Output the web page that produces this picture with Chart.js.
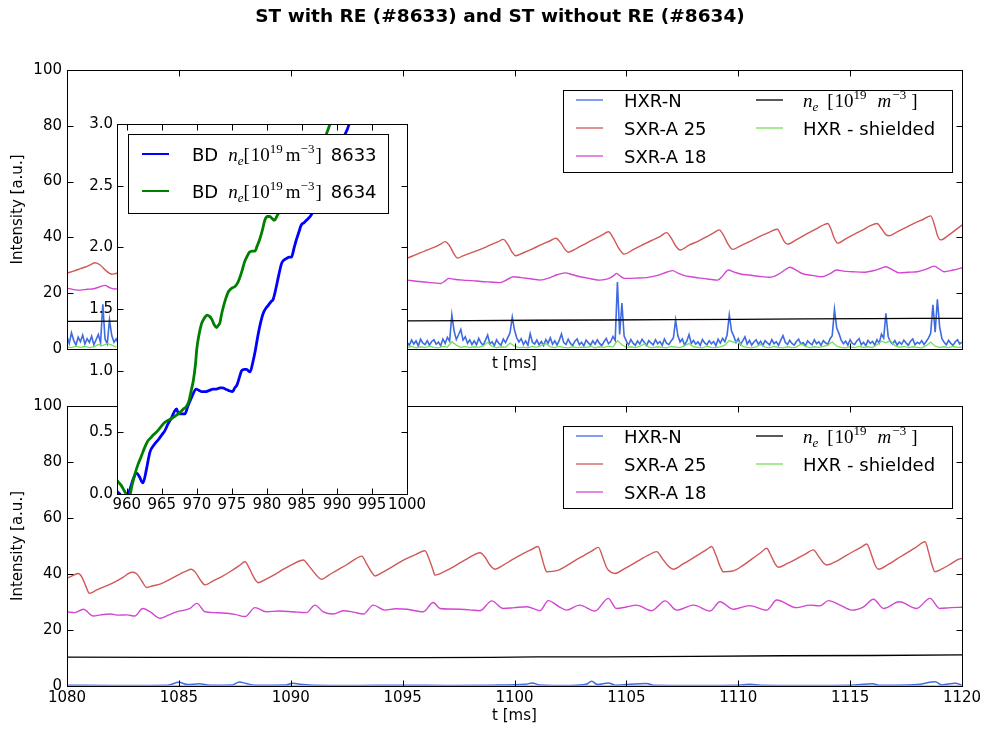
<!DOCTYPE html>
<html>
<head>
<meta charset="utf-8">
<script src="https://cdn.jsdelivr.net/npm/chart.js@4.4.1/dist/chart.umd.min.js"></script>
<style>
  html, body { margin: 0; padding: 0; background: #fff; }
  #wrap { position: relative; width: 985px; height: 729px; overflow: hidden; background: #fff; }
  #wrap canvas { position: absolute; left: 0; top: 0; width: 985px; height: 729px; }
</style>
</head>
<body>
<div id="wrap">
  <canvas id="cBottom" width="985" height="729"></canvas>
  <canvas id="cTop" width="985" height="729"></canvas>
  <canvas id="cInset" width="985" height="729"></canvas>
</div>
<script>
// ---------------------------------------------------------------------------
// Texts and tick labels
// ---------------------------------------------------------------------------
const FIG_TITLE = 'ST with RE (#8633) and ST without RE (#8634)';
const Y_TITLE = 'Intensity [a.u.]';
const X_TITLE = 't [ms]';
const timeTicks = [1080, 1085, 1090, 1095, 1100, 1105, 1110, 1115, 1120];
const intensityTicks = [0, 20, 40, 60, 80, 100];
const bdTimeTicks = [960, 965, 970, 975, 980, 985, 990, 995, 1000];
const bdDensityTicks = [0, 0.5, 1.0, 1.5, 2.0, 2.5, 3.0];

// ---------------------------------------------------------------------------
// Shot #8633 (with runaway electrons) -- upper panel
// ---------------------------------------------------------------------------
// HXR-N, sampled every 0.1 ms, two stretches
const hxrN8633StartA = 1080.0;
const hxrN8633A = [4.5,2.0,5.8,3.1,1.4,4.2,2.6,5.0,1.8,3.7,
                   2.4,4.6,1.5,3.3,5.2,2.2,16.0,3.6,1.9,10.4,
                   4.8,2.4,3.6,1.8];
const hxrN8633StartB = 1095.2;
const hxrN8633B = [2.4,1.3,3.2,1.8,2.9,1.1,3.5,2.2,1.6,3.0,
                   1.4,2.7,3.3,1.7,2.5,1.2,3.6,2.0,4.2,2.8,
                   12.2,6.5,3.4,5.1,7.0,3.2,4.4,2.1,3.3,1.6,
                   2.9,1.5,3.8,2.2,1.3,3.1,5.0,1.8,2.6,1.2,
                   3.3,2.0,1.4,3.6,2.3,4.1,5.8,11.4,6.8,4.0,
                   2.5,3.7,1.6,2.9,1.3,5.5,2.4,1.8,3.2,1.5,
                   2.7,1.2,3.4,2.1,4.0,1.7,2.9,1.4,3.1,5.4,
                   2.3,1.6,3.5,2.0,1.3,2.8,3.6,1.5,2.4,1.1,
                   3.2,2.2,1.4,2.9,1.7,3.3,2.0,1.2,2.6,3.8,
                   1.9,2.7,4.5,3.1,24.0,5.2,16.5,4.6,2.8,1.5,
                   3.4,2.1,1.3,2.9,1.8,3.5,2.4,1.2,3.0,2.2,
                   1.5,3.3,1.9,2.7,1.3,3.6,2.0,1.6,2.9,3.9,
                   10.4,4.8,2.5,3.6,1.4,2.8,5.2,2.0,3.1,1.7,
                   2.6,1.3,3.4,2.2,1.5,3.0,1.9,2.7,1.2,3.5,
                   2.1,3.8,2.6,5.0,12.2,6.4,4.6,2.3,3.7,1.6,
                   2.9,4.4,1.8,3.1,1.4,2.5,3.3,1.7,2.8,1.2,
                   3.0,2.2,1.5,3.4,1.9,2.6,1.3,3.2,4.8,2.4,
                   1.6,3.1,2.0,1.4,2.7,3.5,1.8,2.3,1.1,2.9,
                   2.1,1.5,3.3,1.9,2.6,1.3,3.0,2.2,1.7,3.6,
                   4.8,14.2,7.5,5.6,3.2,1.9,2.8,1.4,3.3,2.0,
                   1.6,2.9,3.7,1.5,2.4,1.2,3.1,2.0,2.7,1.4,
                   3.3,2.1,5.3,3.9,12.8,4.5,2.6,1.8,3.0,1.4,
                   2.5,1.7,3.2,2.2,1.3,2.8,3.6,1.5,2.4,1.9,
                   3.0,1.6,2.7,3.9,5.6,15.8,6.0,17.8,8.0,3.8,
                   2.4,1.5,3.1,2.0,1.3,2.6,3.3,1.8,2.5];
const hxrN8633Step = 0.1;

// HXR - shielded, sampled every 0.2 ms, same two stretches
const shield8633StartA = 1080.0;
const shield8633A = [0.8,0.5,1.0,0.6,0.9,0.5,0.8,1.6,1.2,2.0,1.4,0.7];
const shield8633StartB = 1095.2;
const shield8633B = [0.6,0.9,0.4,0.8,0.5,1.0,0.6,0.4,0.9,0.7,
                     2.6,1.4,0.6,0.9,0.5,0.8,0.6,1.1,2.4,0.9,
                     0.5,0.8,0.6,2.1,1.0,0.5,0.7,0.4,0.9,0.6,
                     1.2,2.0,0.8,0.5,0.9,0.6,0.4,0.8,0.5,0.7,
                     0.6,0.9,0.4,0.8,0.6,1.0,0.7,3.0,1.5,0.6,
                     0.8,0.5,0.9,1.9,0.7,0.5,0.8,0.6,0.4,0.9,
                     0.7,0.5,1.2,2.0,0.8,0.6,0.4,0.9,0.6,0.5,
                     0.8,1.4,3.0,2.4,2.8,0.9,0.6,0.4,0.8,1.6,
                     0.7,0.5,0.9,0.6,0.4,0.8,0.5,0.7,1.8,0.9,
                     0.5,0.8,0.6,0.9,1.4,2.5,1.0,0.6,0.4,0.8,
                     0.5,0.9,0.6,0.8,0.5,1.5,2.8,2.2,3.0,1.2,
                     0.6,0.9,0.5,0.8,0.6,0.4,1.2,2.5,1.0,0.6,
                     0.8,0.5,0.9,0.6,0.7];
const shield8633Step = 0.2;

// SXR-A 25
const sxr25_8633T = [1080.0,1080.3,1080.6,1080.9,1081.1,1081.25,1081.5,1081.75,1082.0,1082.15,1082.3,
  1083.6,1084.0,1084.4,1086.5,1086.9,1089.1,1089.5,1091.7,1092.1,1094.3,1094.7,
  1095.2,1095.6,1096.0,1096.4,1096.7,1096.9,1097.1,1097.3,1097.45,1097.7,1098.1,1098.5,1098.9,1099.3,
  1099.5,1099.7,1099.9,1100.05,1100.4,1100.8,1101.2,1101.6,1101.85,1102.05,1102.25,1102.4,1102.8,
  1103.2,1103.6,1103.9,1104.2,1104.4,1104.65,1104.9,1105.3,1105.7,1106.1,1106.5,1106.8,1107.0,
  1107.2,1107.4,1107.8,1108.2,1108.6,1108.9,1109.15,1109.35,1109.55,1109.75,1110.1,1110.5,1110.9,
  1111.3,1111.75,1111.9,1112.05,1112.2,1112.6,1113.0,1113.4,1113.7,1114.0,1114.15,1114.3,1114.45,
  1114.8,1115.2,1115.6,1115.9,1116.2,1116.4,1116.6,1116.75,1117.1,1117.5,1117.9,1118.3,1118.6,
  1118.75,1118.9,1119.05,1119.4,1119.7,1120.0];
const sxr25_8633V = [27.2,27.9,28.8,29.6,30.4,30.9,30.0,28.0,26.8,27.0,27.3,
  29.5,30.2,27.0,31.0,27.8,31.5,28.6,32.0,29.2,32.8,30.0,
  32.5,33.8,35.2,36.4,37.6,38.5,37.0,34.0,32.6,33.4,34.6,35.8,37.2,38.6,
  39.3,37.5,34.6,33.4,34.5,35.9,37.4,38.8,39.7,38.2,35.8,34.7,36.2,
  37.9,39.6,40.8,42.0,40.0,36.2,34.0,35.6,37.2,38.8,40.3,41.7,39.8,
  37.0,35.5,37.2,38.6,40.3,41.6,42.7,40.6,37.5,35.7,37.0,38.5,40.1,
  41.5,42.9,41.0,38.6,37.6,39.2,41.0,42.7,44.0,45.0,42.8,39.5,37.9,
  39.5,41.2,42.8,44.2,45.0,43.2,41.0,40.6,42.0,43.6,45.2,46.6,47.7,
  45.0,40.8,39.1,40.8,42.6,44.4];

// SXR-A 18
const sxr18_8633T = [1080.0,1080.3,1080.6,1080.9,1081.2,1081.5,1081.7,1081.9,1082.1,1082.3,
  1086.0,1090.0,1094.0,
  1095.2,1095.6,1096.0,1096.4,1096.7,1096.9,1097.05,1097.3,1097.7,1098.1,1098.5,1098.9,1099.35,
  1099.7,1099.95,1100.3,1100.7,1101.15,1101.6,1101.9,1102.26,1102.6,1102.93,1103.4,1103.82,
  1104.2,1104.45,1104.56,1104.75,1104.9,1105.4,1105.9,1106.4,1106.8,1107.07,1107.3,1107.6,
  1107.9,1108.3,1108.7,1109.08,1109.3,1109.56,1109.8,1110.1,1110.5,1110.9,1111.42,1111.8,
  1112.1,1112.31,1112.6,1112.9,1113.3,1113.76,1114.1,1114.4,1114.7,1115.1,1115.6,1116.1,
  1116.4,1116.59,1116.9,1117.2,1117.6,1118.0,1118.4,1118.76,1119.0,1119.2,1119.6,1120.0];
const sxr18_8633V = [21.8,21.3,21.1,21.4,21.6,22.4,22.8,22.0,21.5,21.6,
  22.5,23.5,24.0,
  24.7,24.3,24.0,23.7,23.5,24.4,25.3,25.0,24.7,24.5,24.2,24.0,23.8,
  25.0,25.9,25.6,25.2,24.7,25.6,26.6,27.3,26.6,25.9,25.2,24.7,
  25.2,26.4,27.1,26.0,25.3,25.4,25.6,26.4,27.5,28.1,27.2,26.3,
  25.9,25.4,25.0,24.7,26.2,28.3,27.6,26.9,26.5,26.1,25.7,26.8,
  28.4,29.3,28.2,26.9,26.4,25.9,27.0,28.3,27.9,27.7,27.5,28.2,
  29.0,29.5,28.4,27.3,27.5,27.7,28.6,29.7,28.6,27.7,28.3,29.1];

// n_e [10^19 m^-3]
const ne8633T = [1080.0,1081.0,1082.3,1088.0,1095.2,1098.0,1101.0,1104.0,1107.0,1110.0,1113.0,1116.0,1118.0,1120.0];
const ne8633V = [9.9,9.9,10.0,10.0,10.1,10.2,10.3,10.4,10.5,10.6,10.8,10.9,11.0,11.0];

// ---------------------------------------------------------------------------
// Shot #8634 (without runaway electrons) -- lower panel
// ---------------------------------------------------------------------------
const hxrN8634T = [1080.0,1082.0,1084.5,1085.0,1085.4,1085.9,1086.4,1087.4,1087.7,1088.0,1088.4,
  1089.8,1090.1,1090.4,1091.0,1093.0,1095.0,1097.0,1099.0,1100.5,1100.8,1101.1,1102.5,1103.2,
  1103.45,1103.7,1104.2,1104.5,1105.9,1106.2,1108.0,1110.0,1110.5,1111.0,1113.0,1115.0,1116.0,
  1116.3,1117.0,1118.0,1118.8,1119.1,1119.7,1120.0];
const hxrN8634V = [0.3,0.2,0.3,1.3,0.5,0.8,0.3,0.4,1.4,0.9,0.3,
  0.4,1.0,0.6,0.3,0.2,0.3,0.2,0.3,0.6,1.1,0.4,0.2,0.6,
  1.7,0.5,1.1,0.3,0.9,0.3,0.2,0.3,0.6,0.3,0.2,0.3,0.8,
  0.3,0.3,0.5,1.5,0.4,1.0,0.3];

const shield8634T = [1080.0,1090.0,1100.0,1110.0,1120.0];
const shield8634V = [0.0,0.0,0.0,0.0,0.0];

const sxr25_8634T = [1080.0,1080.25,1080.5,1080.66,1080.85,1081.0,1081.33,1081.7,1082.1,1082.5,1082.9,
  1083.1,1083.35,1083.56,1083.85,1084.16,1084.6,1085.0,1085.3,1085.55,1085.75,1085.95,1086.17,
  1086.5,1086.9,1087.3,1087.7,1087.96,1088.15,1088.35,1088.55,1088.9,1089.3,1089.7,1090.1,
  1090.56,1090.8,1091.1,1091.38,1091.7,1092.1,1092.5,1092.9,1093.17,1093.4,1093.6,1093.77,
  1094.1,1094.6,1095.1,1095.6,1096.0,1096.2,1096.35,1096.45,1096.9,1097.4,1097.9,1098.46,
  1098.7,1098.9,1099.13,1099.5,1099.9,1100.3,1100.7,1101.06,1101.2,1101.35,1101.44,1101.9,
  1102.3,1102.7,1103.1,1103.45,1103.75,1103.95,1104.1,1104.19,1104.49,1104.9,1105.3,1105.7,
  1106.0,1106.35,1106.6,1106.85,1107.1,1107.5,1107.9,1108.3,1108.6,1108.81,1109.0,1109.2,
  1109.33,1109.78,1110.2,1110.6,1111.0,1111.27,1111.45,1111.65,1111.79,1112.2,1112.6,1113.0,
  1113.35,1113.6,1113.8,1113.95,1114.4,1114.8,1115.2,1115.5,1115.74,1115.95,1116.1,1116.26,
  1116.7,1117.1,1117.5,1117.9,1118.35,1118.5,1118.65,1118.79,1119.1,1119.5,1119.83,1120.0];
const sxr25_8634V = [38.5,39.4,40.2,39.0,35.5,33.1,34.3,35.6,37.0,38.8,40.6,
  40.2,37.4,35.2,35.8,36.4,38.1,39.8,40.9,41.7,40.5,38.0,36.1,
  37.4,39.0,40.9,43.0,44.4,42.0,38.8,36.9,38.2,39.9,41.8,43.5,
  45.0,43.0,40.0,38.1,39.6,41.5,43.3,45.4,46.4,43.5,40.8,39.3,
  40.6,42.9,45.2,47.0,48.3,45.0,41.6,39.6,41.0,43.2,45.5,47.6,
  45.8,43.2,41.7,43.2,45.1,46.9,48.5,49.8,46.5,42.3,40.8,41.2,
  42.8,44.8,46.6,48.2,49.5,45.8,42.6,41.4,40.2,41.8,43.6,45.5,
  46.8,48.0,45.6,43.0,41.7,43.4,45.3,47.3,48.8,49.8,46.8,42.5,
  40.8,41.1,43.0,45.3,47.6,49.2,46.8,43.6,42.4,43.8,45.4,47.1,
  48.6,46.2,44.0,43.2,44.6,46.5,48.3,49.6,50.7,47.0,43.5,41.7,
  43.4,45.4,47.4,49.3,51.5,48.0,43.5,40.8,41.8,43.6,45.2,45.6];

const sxr18_8634T = [1080.0,1080.35,1080.73,1081.18,1081.5,1081.94,1082.3,1082.67,1083.04,1083.38,
  1083.72,1084.16,1084.5,1084.9,1085.5,1085.8,1086.17,1086.6,1087.15,1087.5,1087.96,1088.4,
  1088.9,1089.5,1090.1,1090.7,1091.08,1091.45,1091.9,1092.35,1092.8,1093.24,1093.69,1094.2,
  1094.7,1095.2,1095.92,1096.37,1096.67,1097.1,1097.57,1098.0,1098.46,1098.98,1099.5,1100.0,
  1100.55,1101.14,1101.51,1102.0,1102.33,1102.9,1103.6,1104.19,1104.55,1105.0,1105.45,1106.13,
  1106.73,1107.25,1108.0,1108.74,1109.18,1109.78,1110.5,1111.27,1111.72,1112.6,1113.2,1113.65,
  1114.03,1114.55,1115.07,1115.6,1116.04,1116.5,1117.2,1117.97,1118.57,1119.0,1119.5,1120.0];
const sxr18_8634V = [26.5,26.2,27.4,25.0,25.4,25.7,25.3,25.4,25.0,27.7,
  26.5,24.2,25.2,26.5,27.7,29.5,26.5,26.2,26.0,25.6,24.8,28.0,
  26.5,26.8,26.5,26.2,28.9,26.5,25.7,26.9,26.4,25.7,28.9,27.1,
  27.6,27.4,26.5,29.8,27.7,27.5,27.4,27.2,26.9,30.4,27.7,28.0,
  28.3,26.9,30.5,28.3,27.1,28.9,26.8,31.3,27.7,28.2,28.9,26.9,
  30.4,27.1,28.9,26.8,30.1,27.4,28.7,27.1,30.7,28.0,28.9,28.6,
  30.5,28.9,27.1,28.3,31.0,27.7,30.1,27.7,31.3,27.7,28.0,28.1];

const ne8634T = [1080.0,1084.0,1088.0,1092.0,1096.0,1099.0,1101.0,1104.0,1108.0,1112.0,1116.0,1120.0];
const ne8634V = [10.3,10.2,10.2,10.1,10.1,10.2,10.4,10.4,10.6,10.8,10.9,11.1];

// ---------------------------------------------------------------------------
// Breakdown phase: line-averaged density, both shots
// ---------------------------------------------------------------------------
const bd8633T = [958.6,959.0,959.5,960.0,960.4,960.9,961.4,961.8,962.3,962.8,963.3,963.9,964.5,965.0,
  965.4,965.9,966.4,966.8,967.1,967.4,967.8,968.3,968.7,969.3,969.9,970.3,970.7,971.2,971.8,972.3,
  972.8,973.3,973.7,974.1,974.5,975.1,975.4,975.7,976.1,976.4,976.8,977.1,977.6,978.0,978.4,978.7,
  979.1,979.5,979.9,980.2,980.6,980.9,981.3,981.6,982.1,982.5,982.8,983.2,983.5,983.9,984.2,984.6,
  984.9,985.3,985.65,986.0,986.4,986.8,987.1,987.6,988.0,988.4,988.7,989.1,989.5,990.0,990.4,990.8,
  991.1,991.5,991.8,992.3,992.8];
const bd8633V = [0.02,0.0,-0.04,-0.02,0.03,0.12,0.17,0.14,0.09,0.2,0.34,0.4,0.44,0.48,
  0.51,0.57,0.62,0.67,0.69,0.65,0.65,0.65,0.71,0.79,0.85,0.84,0.83,0.83,0.84,0.85,
  0.85,0.86,0.86,0.85,0.84,0.83,0.86,0.88,0.95,1.0,1.01,1.01,0.99,1.07,1.18,1.28,
  1.39,1.47,1.51,1.53,1.56,1.58,1.67,1.75,1.87,1.9,1.91,1.92,1.92,2.0,2.06,2.13,
  2.18,2.2,2.22,2.24,2.27,2.35,2.40,2.47,2.52,2.55,2.57,2.59,2.61,2.71,2.80,2.86,
  2.91,2.96,3.01,3.08,3.15];

const bd8634T = [958.6,958.9,959.2,959.6,959.9,960.3,960.7,961.1,961.6,962.1,962.5,963.0,963.5,963.8,
  964.2,964.8,965.4,966.0,966.6,967.1,967.56,968.1,968.5,968.9,969.2,969.5,969.8,970.0,970.3,970.66,
  971.0,971.5,971.8,972.1,972.5,972.8,973.1,973.3,973.5,973.75,974.1,974.5,975.0,975.4,975.8,976.1,
  976.5,976.8,977.2,977.5,977.9,978.3,978.6,979.0,979.4,979.7,980.1,980.4,980.8,981.1,981.4,981.6,
  982.0,983.0,984.0,985.0,986.0,987.0,988.0,988.5,989.2,989.8];
const bd8634V = [0.11,0.09,0.07,0.03,0.0,-0.04,0.06,0.15,0.24,0.31,0.37,0.43,0.46,0.48,
  0.5,0.54,0.58,0.6,0.62,0.64,0.66,0.69,0.71,0.76,0.84,0.92,1.05,1.18,1.29,1.38,
  1.42,1.45,1.44,1.42,1.37,1.35,1.37,1.39,1.45,1.51,1.58,1.64,1.67,1.68,1.71,1.75,
  1.82,1.88,1.93,1.96,1.97,1.97,2.01,2.07,2.15,2.22,2.25,2.25,2.23,2.22,2.25,2.27,
  2.33,2.43,2.5,2.58,2.65,2.74,2.85,2.92,3.03,3.12];

// ---------------------------------------------------------------------------
// Styling
// ---------------------------------------------------------------------------
const SANS = '"DejaVu Sans", Verdana, sans-serif';
const SERIF = '"Liberation Serif", "DejaVu Serif", serif';
const C_HXR = '#3f6be0';
const C_SXR25 = '#d05858';
const C_SXR18 = '#d246d2';
const C_NE = '#000000';
const C_SHIELD = '#72e05c';
const C_BD8633 = '#0000ff';
const C_BD8634 = '#008000';

Chart.defaults.font.family = SANS;
Chart.defaults.color = '#000';

// ---------------------------------------------------------------------------
// Helpers turning the arrays into Chart.js points
// ---------------------------------------------------------------------------
function pairs(ts, vs) { return ts.map((t, i) => ({ x: t, y: vs[i] })); }
function sampled(t0, dt, vs) {
  return vs.map((v, i) => ({ x: Math.round((t0 + i * dt) * 1000) / 1000, y: v }));
}
function joinWithGap(a, b) {
  const mid = (a[a.length - 1].x + b[0].x) / 2;
  return a.concat([{ x: mid, y: null }], b);
}
// smooth = true draws a monotone cubic through the readings (no overshoot)
function lineSet(label, data, color, width, smooth) {
  const ds = { label, data, borderColor: color, backgroundColor: color, borderWidth: width,
               pointRadius: 0, tension: 0, fill: false, spanGaps: false };
  if (smooth) ds.cubicInterpolationMode = 'monotone';
  return ds;
}

// ---------------------------------------------------------------------------
// Plugins: white inset background, in-axes legend, framed axes with inward ticks,
// figure title
// ---------------------------------------------------------------------------
const whitePlotArea = {
  id: 'whitePlotArea',
  beforeDraw(chart) {
    const a = chart.chartArea, ctx = chart.ctx;
    ctx.save();
    ctx.fillStyle = '#fff';
    ctx.fillRect(a.left, a.top, a.right - a.left, a.bottom - a.top);
    ctx.restore();
  }
};

function drawRuns(ctx, x, y, runs) {
  runs.forEach(r => {
    x += r.gap || 0;
    ctx.font = r.font;
    ctx.fillText(r.text, x, y + (r.dy || 0));
    x += ctx.measureText(r.text).width;
  });
}

const boxLegend = {
  id: 'boxLegend',
  afterDatasetsDraw(chart, args, opts) {
    if (!opts || !opts.box) return;
    const { ctx, chartArea: a } = chart;
    const b = opts.box;
    const bx = Math.round(a.left + b.x) + 0.5, by = Math.round(a.top + b.y) + 0.5;
    ctx.save();
    ctx.fillStyle = '#fff';
    ctx.fillRect(bx, by, b.w, b.h);
    ctx.strokeStyle = '#000';
    ctx.lineWidth = 1;
    ctx.strokeRect(bx, by, b.w, b.h);
    opts.items.forEach(it => {
      const y = a.top + it.y;
      ctx.strokeStyle = it.color;
      ctx.lineWidth = it.lineWidth;
      ctx.beginPath();
      ctx.moveTo(a.left + it.h0, y);
      ctx.lineTo(a.left + it.h1, y);
      ctx.stroke();
      ctx.fillStyle = '#000';
      ctx.textBaseline = 'alphabetic';
      ctx.textAlign = 'left';
      drawRuns(ctx, a.left + it.tx, y + 6.5, it.runs);
    });
    ctx.restore();
  }
};

const framedAxes = {
  id: 'framedAxes',
  afterDatasetsDraw(chart) {
    const { ctx, chartArea: a } = chart;
    const xs = chart.scales.x, ys = chart.scales.y;
    const L = 6;
    const left = Math.round(a.left) + 0.5, right = Math.round(a.right) + 0.5;
    const top = Math.round(a.top) + 0.5, bottom = Math.round(a.bottom) + 0.5;
    ctx.save();
    ctx.strokeStyle = '#000';
    ctx.lineWidth = 1;
    ctx.beginPath();
    xs.ticks.forEach(t => {
      const p = Math.round(xs.getPixelForValue(t.value)) + 0.5;
      ctx.moveTo(p, bottom); ctx.lineTo(p, bottom - L);
      ctx.moveTo(p, top); ctx.lineTo(p, top + L);
    });
    ys.ticks.forEach(t => {
      const p = Math.round(ys.getPixelForValue(t.value)) + 0.5;
      ctx.moveTo(left, p); ctx.lineTo(left + L, p);
      ctx.moveTo(right, p); ctx.lineTo(right - L, p);
    });
    ctx.stroke();
    ctx.strokeRect(left, top, right - left, bottom - top);
    ctx.restore();
  }
};

const figureTitle = {
  id: 'figureTitle',
  afterDraw(chart, args, opts) {
    if (!opts || !opts.text) return;
    const ctx = chart.ctx;
    ctx.save();
    ctx.font = 'bold 18.5px ' + SANS;
    ctx.fillStyle = '#000';
    ctx.textAlign = 'center';
    ctx.textBaseline = 'middle';
    ctx.fillText(opts.text, opts.x, opts.y);
    ctx.restore();
  }
};

// ---------------------------------------------------------------------------
// Legend contents
// ---------------------------------------------------------------------------
const F_SANS = '18px ' + SANS;
const F_SER = '19px ' + SERIF;
const F_SER_I = 'italic 19px ' + SERIF;
const F_SER_S = '13px ' + SERIF;
const F_SER_SI = 'italic 13px ' + SERIF;

const neLabelRuns = [
  { text: 'n', font: F_SER_I },
  { text: 'e', font: F_SER_SI, dy: 4 },
  { text: '[', font: F_SER, gap: 9 },
  { text: '10', font: F_SER, gap: 1 },
  { text: '19', font: F_SER_S, dy: -8 },
  { text: 'm', font: F_SER_I, gap: 11 },
  { text: '\u22123', font: F_SER_S, dy: -8, gap: 1 },
  { text: ']', font: F_SER, gap: 5 }
];
function bdLabelRuns(shot) {
  return [
    { text: 'BD', font: F_SANS },
    { text: 'n', font: F_SER_I, gap: 10 },
    { text: 'e', font: F_SER_SI, dy: 4 },
    { text: '[', font: F_SER },
    { text: '10', font: F_SER, gap: 1 },
    { text: '19', font: F_SER_S, dy: -8 },
    { text: 'm', font: F_SER, gap: 3 },
    { text: '\u22123', font: F_SER_S, dy: -8 },
    { text: ']', font: F_SER, gap: 1 },
    { text: shot, font: F_SANS, gap: 9 }
  ];
}
const panelLegend = {
  box: { x: 496, y: 20, w: 389, h: 82 },
  items: [
    { color: C_HXR, lineWidth: 1.3, h0: 509, h1: 536, tx: 557, y: 30, runs: [{ text: 'HXR-N', font: F_SANS }] },
    { color: C_SXR25, lineWidth: 1.3, h0: 509, h1: 536, tx: 557, y: 58, runs: [{ text: 'SXR-A 25', font: F_SANS }] },
    { color: C_SXR18, lineWidth: 1.3, h0: 509, h1: 536, tx: 557, y: 86, runs: [{ text: 'SXR-A 18', font: F_SANS }] },
    { color: C_NE, lineWidth: 1.3, h0: 689, h1: 716, tx: 736, y: 30, runs: neLabelRuns },
    { color: C_SHIELD, lineWidth: 1.3, h0: 689, h1: 716, tx: 736, y: 58, runs: [{ text: 'HXR - shielded', font: F_SANS }] }
  ]
};
const insetLegend = {
  box: { x: 11, y: 10, w: 260, h: 79 },
  items: [
    { color: C_BD8633, lineWidth: 2, h0: 25, h1: 52, tx: 75, y: 30, runs: bdLabelRuns('8633') },
    { color: C_BD8634, lineWidth: 2, h0: 25, h1: 52, tx: 75, y: 67, runs: bdLabelRuns('8634') }
  ]
};

// ---------------------------------------------------------------------------
// Chart configuration
// ---------------------------------------------------------------------------
function fixedTicks(values) {
  return scale => { scale.ticks = values.map(v => ({ value: v })); };
}

function panelConfig(o) {
  return {
    type: 'line',
    data: { datasets: o.datasets },
    plugins: o.plugins,
    options: {
      responsive: false,
      animation: false,
      events: [],
      layout: { padding: o.padding },
      plugins: {
        legend: { display: false },
        tooltip: { enabled: false },
        boxLegend: o.legend,
        figureTitle: o.title || {}
      },
      scales: {
        x: {
          type: 'linear', min: o.xMin, max: o.xMax,
          afterBuildTicks: fixedTicks(o.xTicks),
          afterFit: s => { s.height = o.xHeight; },
          grid: { display: false, drawTicks: false },
          border: { display: false },
          ticks: { display: o.xLabels, autoSkip: false, maxRotation: 0, padding: o.xPad,
                   font: { size: 15, family: SANS }, color: '#000', callback: v => String(v) },
          title: { display: !!o.xTitle, text: o.xTitle, color: '#000',
                   font: { size: 15, family: SANS }, padding: { top: 0, bottom: o.xTitlePad || 0 } }
        },
        y: {
          type: 'linear', min: o.yMin, max: o.yMax,
          afterBuildTicks: fixedTicks(o.yTicks),
          afterFit: s => { s.width = o.yWidth; },
          grid: { display: false, drawTicks: false },
          border: { display: false },
          ticks: { autoSkip: false, padding: o.yPad, font: { size: 15, family: SANS }, color: '#000',
                   callback: o.yFormat },
          title: { display: !!o.yTitle, text: o.yTitle, color: '#000',
                   font: { size: 15, family: SANS }, padding: { top: o.yTitlePad || 0, bottom: 0 } }
        }
      }
    }
  };
}

// upper panel: shot 8633
const topSets = [
  lineSet('HXR - shielded', joinWithGap(sampled(shield8633StartA, shield8633Step, shield8633A),
                                        sampled(shield8633StartB, shield8633Step, shield8633B)), C_SHIELD, 1.3),
  lineSet('ne', pairs(ne8633T, ne8633V), C_NE, 1.3),
  lineSet('SXR-A 18', pairs(sxr18_8633T, sxr18_8633V), C_SXR18, 1.4, true),
  lineSet('SXR-A 25', pairs(sxr25_8633T, sxr25_8633V), C_SXR25, 1.4, true),
  lineSet('HXR-N', joinWithGap(sampled(hxrN8633StartA, hxrN8633Step, hxrN8633A),
                               sampled(hxrN8633StartB, hxrN8633Step, hxrN8633B)), C_HXR, 1.6)
];
// lower panel: shot 8634
const bottomSets = [
  lineSet('HXR - shielded', pairs(shield8634T, shield8634V), C_SHIELD, 1.3),
  lineSet('ne', pairs(ne8634T, ne8634V), C_NE, 1.3),
  lineSet('SXR-A 18', pairs(sxr18_8634T, sxr18_8634V), C_SXR18, 1.4, true),
  lineSet('SXR-A 25', pairs(sxr25_8634T, sxr25_8634V), C_SXR25, 1.4, true),
  lineSet('HXR-N', pairs(hxrN8634T, hxrN8634V), C_HXR, 1.5, true)
];
// inset: breakdown density
const insetSets = [
  lineSet('BD 8634', pairs(bd8634T, bd8634V), C_BD8634, 2.8, true),
  lineSet('BD 8633', pairs(bd8633T, bd8633V), C_BD8633, 2.8, true)
];

new Chart(document.getElementById('cBottom'), panelConfig({
  datasets: bottomSets,
  plugins: [boxLegend, framedAxes],
  padding: { left: 0, top: 406, right: 23, bottom: 0 },
  xMin: 1080, xMax: 1120, xTicks: timeTicks, xHeight: 43, xLabels: true, xPad: 3,
  xTitle: X_TITLE, xTitlePad: 4,
  yMin: 0, yMax: 100, yTicks: intensityTicks, yWidth: 67, yPad: 5,
  yTitle: Y_TITLE, yTitlePad: 9, yFormat: v => String(v),
  legend: panelLegend
}));

new Chart(document.getElementById('cTop'), panelConfig({
  datasets: topSets,
  plugins: [boxLegend, framedAxes, figureTitle],
  padding: { left: 0, top: 70, right: 23, bottom: 350 },
  xMin: 1080, xMax: 1120, xTicks: timeTicks, xHeight: 30, xLabels: false, xPad: 3,
  xTitle: X_TITLE, xTitlePad: 6,
  yMin: 0, yMax: 100, yTicks: intensityTicks, yWidth: 67, yPad: 5,
  yTitle: Y_TITLE, yTitlePad: 9, yFormat: v => String(v),
  legend: panelLegend,
  title: { text: FIG_TITLE, x: 500, y: 17 }
}));

new Chart(document.getElementById('cInset'), panelConfig({
  datasets: insetSets,
  plugins: [whitePlotArea, boxLegend, framedAxes],
  padding: { left: 77, top: 124, right: 578, bottom: 210 },
  xMin: 958.6, xMax: 1000, xTicks: bdTimeTicks, xHeight: 25, xLabels: true, xPad: 2,
  xTitle: '', yMin: 0, yMax: 3.0, yTicks: bdDensityTicks, yWidth: 40, yPad: 4,
  yTitle: '', yFormat: v => v.toFixed(1),
  legend: insetLegend
}));
</script>
</body>
</html>
